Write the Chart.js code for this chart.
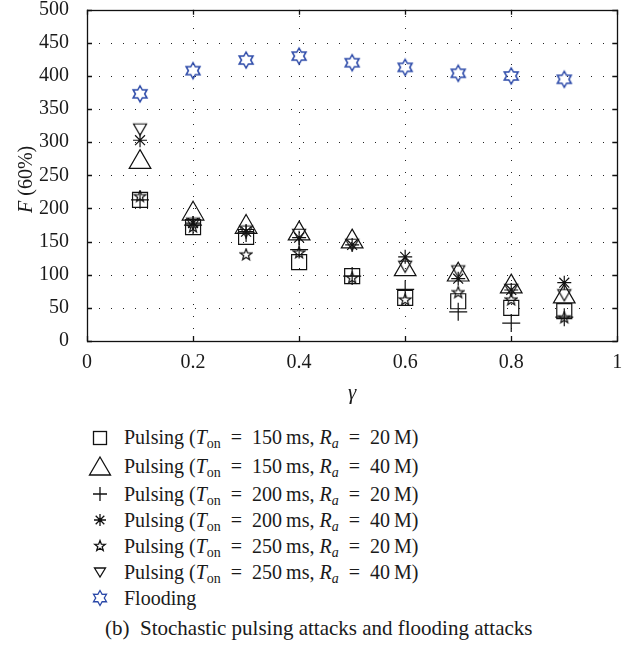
<!DOCTYPE html>
<html>
<head>
<meta charset="utf-8">
<script src="https://cdn.jsdelivr.net/npm/chart.js@4/dist/chart.umd.min.js"></script>
<style>
  body { margin: 0; background: #fff; }
  #wrap { position: relative; width: 631px; height: 660px; overflow: hidden; font-family: 'Liberation Serif', 'DejaVu Serif', serif; color: #1a1a1a; }
  #c { position: absolute; left: 0; top: -4px; }
  #legend { position: absolute; left: 84px; top: 423px; font-size: 20px; }
  .row { display: flex; align-items: center; height: 26px; white-space: nowrap; }
  .row.tall { height: 29px; }
  .mk { width: 32px; height: 24px; display: flex; align-items: center; justify-content: center; margin-right: 8px; }
  sub { font-size: 14px; vertical-align: -4px; line-height: 0; }
  i { font-style: italic; }
  #caption { position: absolute; left: 105px; top: 616px; font-size: 21px; white-space: nowrap; }
</style>
</head>
<body>
<div id="wrap">
  <canvas id="c" width="631" height="414"></canvas>
  <div id="legend"></div>
  <div id="caption">(b)&nbsp; Stochastic pulsing attacks and flooding attacks</div>
</div>
<script>
// valores
const gammas = [0.1, 0.2, 0.3, 0.4, 0.5, 0.6, 0.7, 0.8, 0.9];
const pulse150_20 = [213, 172, 157, 119, 98, 65, 60, 50, 45];
const pulse150_40 = [270, 192, 172, 162, 150, 108, 100, 82, 67];
const pulse200_20 = [213, 175, 163, 138, 98, 78, 44, 27, 36];
const pulse200_40 = [303, 178, 165, 156, 145, 127, 94, 77, 88];
const pulse250_20 = [218, 172, 130, 133, 95, 62, 73, 62, 35];
const pulse250_40 = [322, 180, 168, 163, 148, 115, 108, 80, 72];
const flooding = [373, 408, 424, 430, 420, 413, 404, 400, 395];

const xTicks = [0, 0.2, 0.4, 0.6, 0.8, 1];
const yTicks = [0, 50, 100, 150, 200, 250, 300, 350, 400, 450, 500];
const tOn = ['150', '150', '200', '200', '250', '250'];
const ra = ['20', '40', '20', '40', '20', '40'];

const BLUE = '#2a48a8';
const FONT = "'Liberation Serif', 'DejaVu Serif', serif";

// marcadores propios (canvas pequeños)
function makeMarker(size, color, lw, draw) {
  const cv = document.createElement('canvas');
  cv.width = size; cv.height = size;
  const g = cv.getContext('2d');
  g.strokeStyle = color;
  g.lineWidth = lw;
  g.lineJoin = 'miter';
  draw(g, size / 2, size / 2);
  return cv;
}

function starPath(g, cx, cy, n, rOut, rIn) {
  g.beginPath();
  for (let i = 0; i < 2 * n; i++) {
    const r = i % 2 === 0 ? rOut : rIn;
    const a = -Math.PI / 2 + i * Math.PI / n;
    const px = cx + r * Math.cos(a), py = cy + r * Math.sin(a);
    if (i === 0) g.moveTo(px, py); else g.lineTo(px, py);
  }
  g.closePath();
  g.stroke();
}

function pentagram(size, rOut, color) {
  return makeMarker(size, color, 1.2, (g, cx, cy) => starPath(g, cx, cy, 5, rOut, rOut * 0.42));
}
function hexagram(size, rOut, color) {
  return makeMarker(size, color, 1.5, (g, cx, cy) => starPath(g, cx, cy, 6, rOut, rOut * 0.577));
}
function downTriangle(size, r, color) {
  return makeMarker(size, color, 1.2, (g, cx, cy) => {
    g.beginPath();
    g.moveTo(cx - r * 0.866, cy - r * 0.5);
    g.lineTo(cx + r * 0.866, cy - r * 0.5);
    g.lineTo(cx, cy + r);
    g.closePath();
    g.stroke();
  });
}

const starMk = pentagram(14, 6, '#111');
const downMk = downTriangle(18, 7.5, '#111');
const hexMk = hexagram(20, 8, BLUE);

function pts(vals) {
  return gammas.map((g, i) => ({ x: g, y: vals[i] }));
}

function ds(label, vals, style, radius, color) {
  return {
    label: label,
    data: pts(vals),
    pointStyle: style,
    pointRadius: radius,
    pointHoverRadius: radius,
    borderColor: color || '#111',
    backgroundColor: 'rgba(0,0,0,0)',
    pointBorderWidth: 1.2,
    showLine: false
  };
}

// rejilla punteada, marcas hacia dentro y caja
const framePlugin = {
  id: 'frame',
  beforeDatasetsDraw(chart) {
    const { ctx, chartArea: a, scales } = chart;
    const xs = scales.x, ys = scales.y;
    ctx.save();
    ctx.strokeStyle = '#222';
    ctx.lineWidth = 1;
    ctx.setLineDash([1, 11]);
    xTicks.slice(1, -1).forEach(v => {
      const px = Math.round(xs.getPixelForValue(v)) + 0.5;
      ctx.beginPath(); ctx.moveTo(px, a.bottom); ctx.lineTo(px, a.top); ctx.stroke();
    });
    yTicks.slice(1, -1).forEach(v => {
      const py = Math.round(ys.getPixelForValue(v)) + 0.5;
      ctx.beginPath(); ctx.moveTo(a.left, py); ctx.lineTo(a.right, py); ctx.stroke();
    });
    ctx.setLineDash([]);
    ctx.strokeStyle = '#111';
    ctx.lineWidth = 1.3;
    const t = 5;
    xTicks.forEach(v => {
      const px = Math.round(xs.getPixelForValue(v)) + 0.5;
      ctx.beginPath();
      ctx.moveTo(px, a.bottom); ctx.lineTo(px, a.bottom - t);
      ctx.moveTo(px, a.top); ctx.lineTo(px, a.top + t);
      ctx.stroke();
    });
    yTicks.forEach(v => {
      const py = Math.round(ys.getPixelForValue(v)) + 0.5;
      ctx.beginPath();
      ctx.moveTo(a.left, py); ctx.lineTo(a.left + t, py);
      ctx.moveTo(a.right, py); ctx.lineTo(a.right - t, py);
      ctx.stroke();
    });
    ctx.strokeRect(Math.round(a.left) + 0.5, Math.round(a.top) + 0.5, Math.round(a.right - a.left), Math.round(a.bottom - a.top));
    ctx.restore();
  },
  afterDraw(chart) {
    // titulo del eje y: F en cursiva
    const { ctx, chartArea: a } = chart;
    ctx.save();
    ctx.fillStyle = '#1a1a1a';
    ctx.translate(27, (a.top + a.bottom) / 2 + 4);
    ctx.rotate(-Math.PI / 2);
    ctx.textBaseline = 'middle';
    const f1 = 'italic 20px ' + FONT, f2 = '20px ' + FONT;
    ctx.font = f1; const w1 = ctx.measureText('F').width;
    ctx.font = f2; const w2 = ctx.measureText(' (60%)').width;
    let x0 = -(w1 + w2) / 2;
    ctx.font = f1; ctx.textAlign = 'left'; ctx.fillText('F', x0, 0);
    ctx.font = f2; ctx.fillText(' (60%)', x0 + w1, 0);
    ctx.restore();
  }
};

const chart = new Chart(document.getElementById('c').getContext('2d'), {
  type: 'scatter',
  data: {
    datasets: [
      ds('Flooding', flooding, hexMk, 9, BLUE),
      ds('Pulsing 150/20', pulse150_20, 'rect', 10.6),
      ds('Pulsing 150/40', pulse150_40, 'triangle', 12.5),
      ds('Pulsing 200/20', pulse200_20, 'cross', 9),
      ds('Pulsing 200/40', pulse200_40, 'star', 7),
      ds('Pulsing 250/20', pulse250_20, starMk, 6),
      ds('Pulsing 250/40', pulse250_40, downMk, 7)
    ]
  },
  options: {
    responsive: false,
    animation: false,
    events: [],
    layout: { padding: { left: 0, right: 12, top: 7, bottom: 0 } },
    plugins: { legend: { display: false }, tooltip: { enabled: false } },
    scales: {
      x: {
        type: 'linear', min: 0, max: 1,
        afterBuildTicks: s => { s.ticks = xTicks.map(v => ({ value: v })); },
        afterFit: s => { s.height = 69; s.paddingLeft = 0; s.paddingRight = 0; },
        grid: { display: false },
        border: { display: false },
        ticks: { padding: 2, color: '#1a1a1a', font: { family: FONT, size: 20 }, maxRotation: 0,
                 callback: v => String(v) },
        title: { display: true, text: 'γ', color: '#1a1a1a', font: { family: FONT, size: 21, style: 'italic' },
                 padding: { top: 4, bottom: 4 } }
      },
      y: {
        type: 'linear', min: 0, max: 500,
        afterBuildTicks: s => { s.ticks = yTicks.map(v => ({ value: v })); },
        afterFit: s => { s.width = 87; s.paddingTop = 0; s.paddingBottom = 0; },
        grid: { display: false },
        border: { display: false },
        ticks: { padding: 10, color: '#1a1a1a', font: { family: FONT, size: 20 } }
      }
    }
  },
  plugins: [framePlugin]
});

// leyenda en HTML (subindices y cursivas)
function svgMk(inner) {
  return '<svg width="26" height="24" viewBox="-13 -12 26 24" fill="none" stroke="#111" stroke-width="1.3">' + inner + '</svg>';
}
function starPoints(n, rOut, rIn) {
  const p = [];
  for (let i = 0; i < 2 * n; i++) {
    const r = i % 2 === 0 ? rOut : rIn;
    const ang = -Math.PI / 2 + i * Math.PI / n;
    p.push((r * Math.cos(ang)).toFixed(2) + ',' + (r * Math.sin(ang)).toFixed(2));
  }
  return p.join(' ');
}
const legendMarks = [
  svgMk('<rect x="-6.5" y="-6.5" width="13" height="13"/>'),
  svgMk('<polygon points="0,-10 10.5,8 -10.5,8"/>'),
  svgMk('<path d="M-7,0H7M0,-7V7"/>'),
  svgMk('<path d="M-6,0H6M0,-6V6M-4.3,-4.3L4.3,4.3M-4.3,4.3L4.3,-4.3"/><circle r="1.3" fill="#111"/>'),
  svgMk('<polygon points="' + starPoints(5, 5.5, 2.3) + '"/>'),
  svgMk('<polygon points="-5.5,-4 5.5,-4 0,5"/>'),
  '<svg width="26" height="24" viewBox="-13 -12 26 24" fill="none" stroke="' + BLUE + '" stroke-width="1.3"><polygon points="' + starPoints(6, 7.5, 4.3) + '"/></svg>'
];

const legend = document.getElementById('legend');
let html = '';
tOn.forEach((t, i) => {
  html += '<div class="row' + (i < 2 ? ' tall' : '') + '"><div class="mk">' + legendMarks[i] + '</div>' +
    '<span>Pulsing (<i>T</i><sub>on</sub>&ensp;=&ensp;' + t + '&thinsp;ms, <i>R<sub>a</sub></i>&ensp;=&ensp;' + ra[i] + '&thinsp;M)</span></div>';
});
html += '<div class="row"><div class="mk">' + legendMarks[6] + '</div><span>Flooding</span></div>';
legend.innerHTML = html;
</script>
</body>
</html>
